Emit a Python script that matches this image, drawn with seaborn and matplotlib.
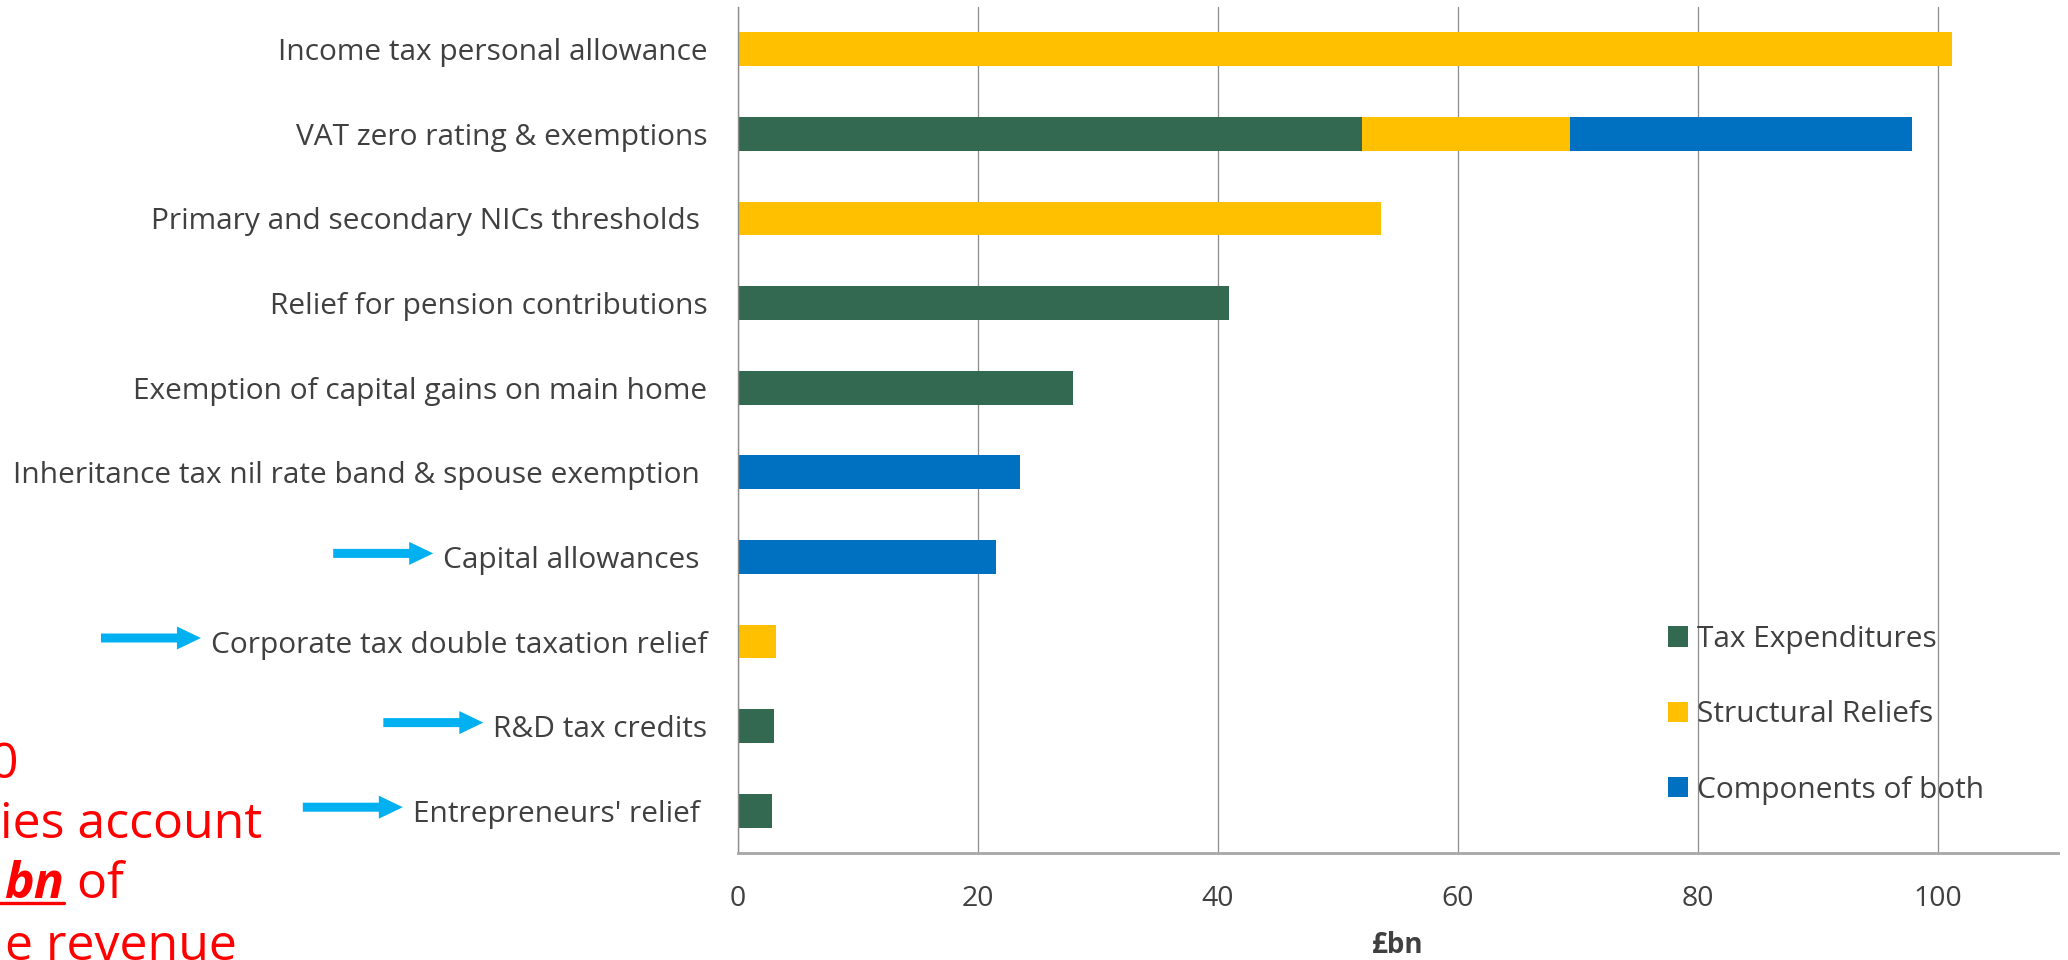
import matplotlib
matplotlib.use("Agg")
import matplotlib.pyplot as plt
import seaborn as sns
import pandas as pd
from matplotlib.patches import FancyArrow
from matplotlib.lines import Line2D
from matplotlib.transforms import IdentityTransform

# ---------------- data ----------------
categories = [
    "Income tax personal allowance",
    "VAT zero rating & exemptions",
    "Primary and secondary NICs thresholds ",
    "Relief for pension contributions",
    "Exemption of capital gains on main home",
    "Inheritance tax nil rate band & spouse exemption ",
    "Capital allowances ",
    "Corporate tax double taxation relief",
    "R&D tax credits",
    "Entrepreneurs' relief ",
]
tax_expenditures = [0, 52.0, 0, 40.9, 27.9, 0, 0, 0, 3.0, 2.8]
structural_reliefs = [101.2, 17.3, 53.6, 0, 0, 0, 0, 3.2, 0, 0]
components_of_both = [0, 28.5, 0, 0, 0, 23.5, 21.5, 0, 0, 0]
series_names = ["Tax Expenditures", "Structural Reliefs", "Components of both"]
series_colors = ["#336950", "#FFC000", "#0070C0"]
x_ticks = [0, 20, 40, 60, 80, 100]
x_label = "£bn"
arrowed = ["Capital allowances ", "Corporate tax double taxation relief",
           "R&D tax credits", "Entrepreneurs' relief "]
note_lines = ["0", "ies account", None, "e revenue"]
note_bold = "bn"
note_tail = " of"

# ---------------- style ----------------
sns.set_style("white")
plt.rcParams["font.family"] = ["Open Sans", "DejaVu Sans"]
TXT = "#404040"
GRID = "#8c8c8c"
FS = 21.5

W, H, DPI = 2068, 960, 100
fig = plt.figure(figsize=(W / DPI, H / DPI), dpi=DPI)
ax = fig.add_axes([738 / W, 1 - 853 / H, (2058 - 738) / W, (853 - 7) / H])

df = pd.DataFrame({
    "category": categories,
    "te": tax_expenditures,
    "sr": structural_reliefs,
    "cb": components_of_both,
})
df["cum1"] = df["te"]
df["cum2"] = df["te"] + df["sr"]
df["cum3"] = df["te"] + df["sr"] + df["cb"]

# overlay cumulative totals: widest first
for col, name, color in [("cum3", series_names[2], series_colors[2]),
                         ("cum2", series_names[1], series_colors[1]),
                         ("cum1", series_names[0], series_colors[0])]:
    sns.barplot(data=df, x=col, y="category", orient="h", color=color,
                width=0.4, linewidth=0, saturation=1, label=name, ax=ax)

ax.set_xlim(0, 110)
ax.set_ylim(9.5, -0.5)
ax.set_xticks(x_ticks)
ax.set_xticklabels([str(t) for t in x_ticks])
ax.set_ylabel("")
ax.set_xlabel(x_label, fontsize=20, fontweight="bold", color=TXT, labelpad=13)

ax.set_axisbelow(True)
ax.xaxis.grid(True, color=GRID, linewidth=0.9)
ax.yaxis.grid(False)

for s in ["top", "right"]:
    ax.spines[s].set_visible(False)
ax.spines["left"].set_color(GRID)
ax.spines["left"].set_linewidth(1.0)
ax.spines["bottom"].set_color("#a6a6a6")
ax.spines["bottom"].set_linewidth(2.0)

ax.tick_params(axis="y", which="major", length=0, pad=22, labelsize=FS, labelcolor=TXT)
ax.set_yticks([i - 0.5 for i in range(len(categories) + 1)], minor=True)
ax.tick_params(axis="y", which="minor", length=7, width=1.0, color=GRID, direction="out")
ax.tick_params(axis="x", which="major", length=7, width=0.9, color=GRID,
               direction="out", pad=16, labelsize=20.5, labelcolor=TXT)

# legend in the reference order
handles, labels = ax.get_legend_handles_labels()
order = [labels.index(n) for n in series_names]
leg = ax.legend([handles[i] for i in order], [labels[i] for i in order],
                loc="upper left", bbox_to_anchor=(1668, H - 625),
                bbox_transform=IdentityTransform(), frameon=False,
                fontsize=FS, handlelength=0.68, handleheight=0.68,
                handletextpad=0.3, labelspacing=1.55, borderpad=0, borderaxespad=0)
for t in leg.get_texts():
    t.set_color(TXT)

# ---------------- arrows next to selected labels ----------------
fig.canvas.draw()
renderer = fig.canvas.get_renderer()
for lab in ax.get_yticklabels():
    if lab.get_text() in arrowed:
        bb = lab.get_window_extent(renderer)
        tip_x = bb.x0 - 10
        yc = (bb.y0 + bb.y1) / 2 + 7
        fig.add_artist(FancyArrow(tip_x - 100, yc, 100, 0, width=9, head_width=23,
                                  head_length=24, length_includes_head=True,
                                  color="#00B0F0", linewidth=0,
                                  transform=IdentityTransform()))

# ---------------- red note (cut off at the left edge) ----------------
RED = "#FF0000"
fs_note = 36
fig.text(18, H - 778, note_lines[0], transform=IdentityTransform(), color=RED,
         fontsize=fs_note, ha="right", va="baseline")
fig.text(0, H - 838, note_lines[1], transform=IdentityTransform(), color=RED,
         fontsize=fs_note, ha="left", va="baseline")
tb = fig.text(4, H - 898, note_bold, transform=IdentityTransform(), color=RED,
              fontsize=fs_note, fontweight="bold", fontstyle="italic",
              ha="left", va="baseline")
fig.canvas.draw()
bbb = tb.get_window_extent(fig.canvas.get_renderer())
fig.text(bbb.x1, H - 898, note_tail, transform=IdentityTransform(), color=RED,
         fontsize=fs_note, ha="left", va="baseline")
fig.add_artist(Line2D([0, bbb.x1], [H - 903, H - 903], color=RED, linewidth=2.4,
                      transform=IdentityTransform()))
fig.text(5, H - 960, note_lines[3], transform=IdentityTransform(), color=RED,
         fontsize=fs_note, ha="left", va="baseline")

fig.savefig("out.png", dpi=DPI)
